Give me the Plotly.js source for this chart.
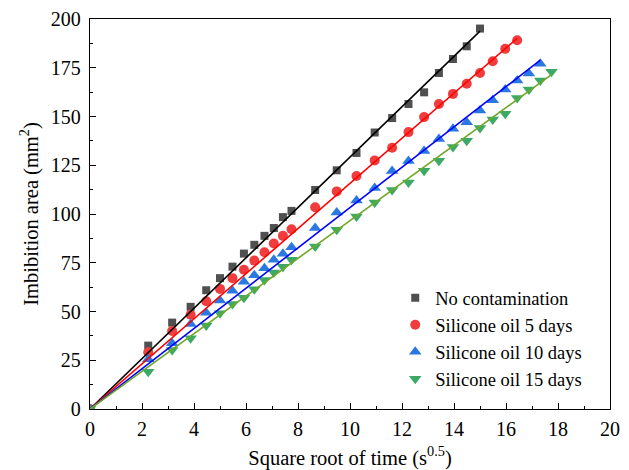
<!DOCTYPE html>
<html>
<head>
<meta charset="utf-8">
<script src="https://cdn.plot.ly/plotly-3.0.1.min.js"></script>
<style>html,body{margin:0;padding:0;background:#fff;}#chart{width:629px;height:470px;}</style>
</head>
<body>
<div id="chart"></div>
<script>
// Series names
var seriesNames = ["No contamination", "Silicone oil 5 days", "Silicone oil 10 days", "Silicone oil 15 days"];

// Square root of time values (s^0.5)
var xNoCont = [0, 2.24, 3.16, 3.87, 4.47, 5.00, 5.48, 5.92, 6.32, 6.71, 7.07, 7.42, 7.75, 8.66, 9.49, 10.25, 10.95, 11.62, 12.25, 12.85, 13.42, 13.96, 14.49, 15.00];
var yNoCont = [0, 32.5, 44.3, 52.4, 60.9, 67.1, 73.0, 79.7, 84.2, 88.8, 92.8, 98.4, 101.6, 112.3, 122.4, 131.3, 141.8, 149.2, 156.4, 162.4, 172.3, 179.5, 186.0, 195.1];

var x5d = [0, 2.24, 3.16, 3.87, 4.47, 5.00, 5.48, 5.92, 6.32, 6.71, 7.07, 7.42, 7.75, 8.66, 9.49, 10.25, 10.95, 11.62, 12.25, 12.85, 13.42, 13.96, 14.49, 15.00, 15.49, 15.97, 16.43];
var y5d = [0, 29.1, 40.0, 48.3, 55.3, 61.6, 67.1, 71.4, 76.1, 80.4, 84.9, 88.8, 92.2, 103.5, 111.6, 119.5, 127.5, 134.0, 142.0, 149.7, 156.4, 161.6, 166.8, 172.3, 178.3, 184.7, 189.1];

var x10d = [0, 2.24, 3.16, 3.87, 4.47, 5.00, 5.48, 5.92, 6.32, 6.71, 7.07, 7.42, 7.75, 8.66, 9.49, 10.25, 10.95, 11.62, 12.25, 12.85, 13.42, 13.96, 14.49, 15.00, 15.49, 15.97, 16.43, 16.88, 17.32];
var y10d = [0, 25.5, 33.7, 43.6, 49.4, 55.6, 60.7, 65.3, 68.6, 72.2, 76.5, 79.6, 83.0, 92.8, 100.8, 106.9, 113.3, 122.0, 127.2, 132.3, 138.4, 143.7, 147.0, 153.1, 158.3, 163.8, 168.5, 172.0, 177.1];

var x15d = [0, 2.24, 3.16, 3.87, 4.47, 5.00, 5.48, 5.92, 6.32, 6.71, 7.07, 7.42, 7.75, 8.66, 9.49, 10.25, 10.95, 11.62, 12.25, 12.85, 13.42, 13.96, 14.49, 15.00, 15.49, 15.97, 16.43, 16.88, 17.32, 17.75];
var y15d = [0, 19.1, 30.3, 36.3, 42.8, 49.1, 53.9, 57.1, 61.4, 66.2, 70.0, 73.0, 76.5, 83.3, 91.9, 98.7, 105.9, 112.3, 116.2, 122.2, 127.3, 134.3, 137.6, 144.1, 148.4, 151.4, 159.5, 163.8, 168.5, 173.0];

// Linear fit slopes (through origin)
var fitSlopes = [12.92, 11.57, 10.33, 9.66];

var xs = [xNoCont, x5d, x10d, x15d];
var ys = [yNoCont, y5d, y10d, y15d];
var markerColors = ["#505050", "#f03c3c", "#2a78e0", "#3caa66"];
var lineColors = ["#000000", "#ff0000", "#0000ff", "#70a828"];
var symbols = ["square", "circle", "triangle-up", "triangle-down"];
var sizes = [8, 10, 11, 11];

function serif(sz) { return {family: "Liberation Serif", size: sz, color: "#000000"}; }

var traces = [];
for (var i = 0; i < 4; i++) {
  traces.push({
    x: xs[i], y: ys[i], mode: "markers", type: "scatter", name: seriesNames[i],
    marker: {symbol: symbols[i], size: sizes[i], color: markerColors[i], line: {width: 0}},
    cliponaxis: true
  });
}
for (var j = 0; j < 4; j++) {
  var xe = xs[j][xs[j].length - 1];
  traces.push({
    x: [0, xe], y: [0, fitSlopes[j] * xe], mode: "lines", type: "scatter",
    showlegend: false, hoverinfo: "skip",
    line: {color: lineColors[j], width: 1.6}
  });
}

var layout = {
  width: 629, height: 470,
  margin: {l: 90, r: 19, t: 19, b: 61},
  paper_bgcolor: "#fff", plot_bgcolor: "#fff",
  font: serif(20),
  showlegend: true,
  legend: {x: 0.587, y: 0.333, xanchor: "left", yanchor: "top", bgcolor: "rgba(0,0,0,0)",
           font: serif(18.5), tracegroupgap: 0, itemwidth: 30},
  xaxis: {
    range: [0, 20], dtick: 2, tick0: 0, ticks: "inside", ticklen: 6, tickwidth: 1.2, tickcolor: "#000",
    showline: true, linecolor: "#000", linewidth: 1.4, mirror: true, showgrid: false, zeroline: false,
    minor: {dtick: 1, ticks: "inside", ticklen: 3, tickwidth: 1.2, tickcolor: "#000", showgrid: false},
    tickfont: serif(20), ticklabelstandoff: 2,
    title: {text: "Square root of time (s<sup>0.5</sup>)", font: serif(20.5), standoff: 14}
  },
  yaxis: {
    range: [0, 200], dtick: 25, tick0: 0, ticks: "inside", ticklen: 6, tickwidth: 1.2, tickcolor: "#000",
    showline: true, linecolor: "#000", linewidth: 1.4, mirror: true, showgrid: false, zeroline: false,
    minor: {dtick: 12.5, ticks: "inside", ticklen: 3, tickwidth: 1.2, tickcolor: "#000", showgrid: false},
    tickfont: serif(20), ticklabelstandoff: 4,
    title: {text: "Imbibition area (mm<sup>2</sup>)", font: serif(20.5), standoff: 6}
  }
};

Plotly.newPlot("chart", traces, layout, {displayModeBar: false});
</script>
</body>
</html>
